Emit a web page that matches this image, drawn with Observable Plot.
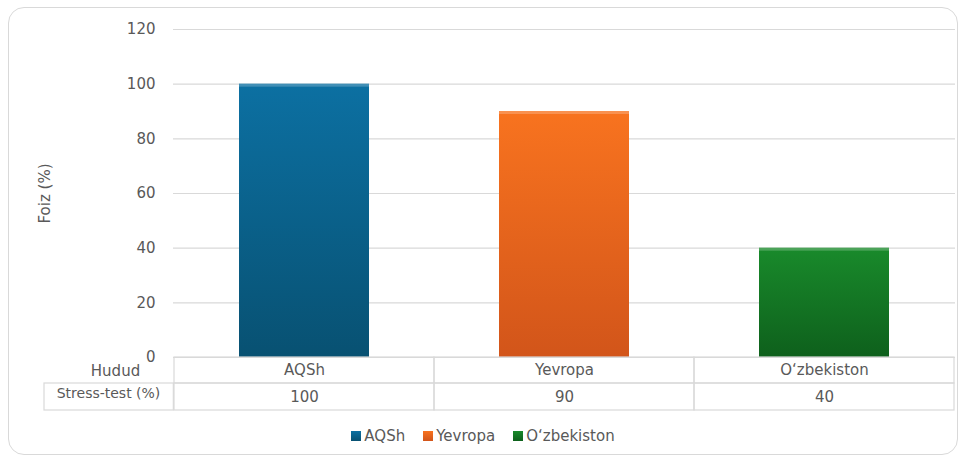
<!DOCTYPE html>
<html>
<head>
<meta charset="utf-8">
<script src="https://cdn.jsdelivr.net/npm/d3@7"></script>
<script src="https://cdn.jsdelivr.net/npm/@observablehq/plot@0.6"></script>
<style>
  body { margin: 0; background: #fff; font-family: "DejaVu Sans", sans-serif; }
  #frame { position: absolute; left: 8px; top: 7px; width: 948px; height: 446px; border: 1px solid #d9d9d9; border-radius: 16px; }
  #chart { position: absolute; left: 0; top: 0; }
  #legend { position: absolute; left: 0; width: 966px; top: 427px; text-align: center; font-size: 15px; color: #595959; }
  #legend span.item { margin: 0 9px; display: inline-flex; align-items: center; }
  #legend span.sw { display: inline-block; width: 10px; height: 10px; margin-right: 3px; }
</style>
</head>
<body>
<div id="frame"></div>
<div id="chart"></div>
<div id="legend"></div>
<script>
const categories = ["AQSh", "Yevropa", "O\u2018zbekiston"];
const values = [100, 90, 40];
const yTicks = [0, 20, 40, 60, 80, 100, 120];
const rowHeader = "Hudud";
const seriesName = "Stress-test (%)";
const colorsTop = ["#0c70a2", "#f8731f", "#198a2b"];
const colorsBottom = ["#085172", "#d2551a", "#0e601c"];

const data = categories.map((c, i) => ({ cat: c, value: values[i], grad: `url(#g${i})` }));

const FONT = "DejaVu Sans, sans-serif";

const chart = Plot.plot({
  width: 966,
  height: 420,
  marginLeft: 173,
  marginRight: 11,
  marginTop: 29,
  marginBottom: 63,
  style: { fontFamily: FONT, fontSize: "14px", color: "#595959", background: "transparent", overflow: "visible" },
  x: { domain: categories, padding: 0, axis: null },
  y: { domain: [0, 120], ticks: yTicks },
  color: { type: "ordinal", domain: categories, range: data.map(d => d.grad) },
  marks: [
    Plot.gridY(yTicks, { stroke: "#d9d9d9", strokeOpacity: 1, strokeWidth: 1.2 }),
    Plot.axisY(yTicks, { tickSize: 0, tickPadding: 18, fontSize: 15, label: "Foiz (%)", labelAnchor: "center", labelArrow: "none", labelOffset: 134 }),
    Plot.barY(data, { x: "cat", y: "value", fill: "cat", insetLeft: 65, insetRight: 65 }),
    Plot.barY(data, { x: "cat", y1: "value", y2: "value", insetLeft: 65, insetRight: 65, insetTop: 0, insetBottom: -3, fill: "#ffffff", fillOpacity: 0.22 }),
    // table row 1 (categories)
    Plot.barY(categories, { x: d => d, y1: 0, y2: 0, insetTop: 0, insetBottom: -26, fill: "none", stroke: "#d9d9d9", strokeWidth: 1.2 }),
    // table row 2 (values)
    Plot.barY(categories, { x: d => d, y1: 0, y2: 0, insetTop: 26, insetBottom: -53, fill: "none", stroke: "#d9d9d9", strokeWidth: 1.2 }),
    Plot.barY([categories[0]], { x: d => d, y1: 0, y2: 0, insetTop: 26, insetBottom: -53, insetLeft: -130, insetRight: 260.67, fill: "none", stroke: "#d9d9d9", strokeWidth: 1.2 }),
    Plot.text(categories, { x: d => d, y: 0, dy: 13, text: d => d, fill: "#595959", fontSize: 15 }),
    Plot.text(values, { x: (d, i) => categories[i], y: 0, dy: 40, text: d => String(d), fill: "#595959", fontSize: 15 }),
    Plot.text([rowHeader], { frameAnchor: "bottom-left", textAnchor: "middle", dx: -58, dy: 18, fill: "#595959", fontSize: 15 }),
    Plot.text([seriesName], { frameAnchor: "bottom-left", textAnchor: "middle", dx: -65, dy: 40, fill: "#595959", fontSize: 14 })
  ]
});

// gradient defs
const svg = d3.select(chart);
const defs = svg.insert("defs", ":first-child");
categories.forEach((c, i) => {
  const g = defs.append("linearGradient").attr("id", `g${i}`).attr("x1", 0).attr("y1", 0).attr("x2", 0).attr("y2", 1);
  g.append("stop").attr("offset", "0%").attr("stop-color", colorsTop[i]);
  g.append("stop").attr("offset", "100%").attr("stop-color", colorsBottom[i]);
});

document.getElementById("chart").appendChild(chart);

const legend = d3.select("#legend");
categories.forEach((c, i) => {
  const it = legend.append("span").attr("class", "item");
  it.append("span").attr("class", "sw").style("background", `linear-gradient(${colorsTop[i]}, ${colorsBottom[i]})`);
  it.append("span").text(c);
});
</script>
</body>
</html>
